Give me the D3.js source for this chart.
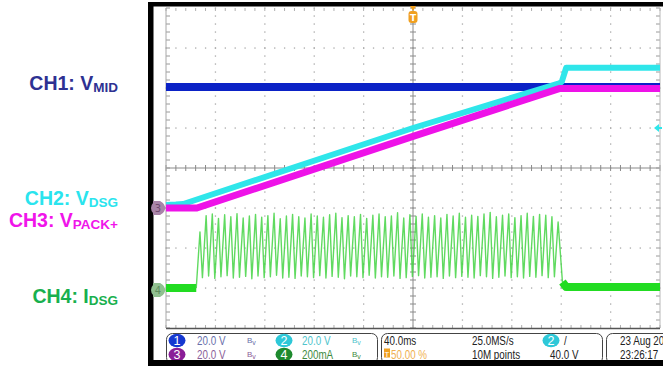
<!DOCTYPE html>
<html><head><meta charset="utf-8">
<script src="https://cdn.jsdelivr.net/npm/d3@7/dist/d3.min.js"></script>
<style>
html,body{margin:0;padding:0;background:#fff;overflow:hidden;}
svg{display:block;}
</style></head><body>
<svg id="c" width="663" height="366"></svg>
<script>
// ---------- DATA ----------
// time in ms (40 ms/div, trigger at centre), volts / mA
const ch1Times = [-200, 200];
const ch1Volts = [60.5, 60.5];

const ch2Times = [-200, -192, -186, 0, 119, 120.5, 124, 200];
const ch2Volts = [1.5, 1.7, 2.0, 40.0, 62.5, 63.2, 70.1, 70.1];

const ch3Times = [-200, -175, 0, 119, 200];
const ch3Volts = [0.0, 0.0, 35.8, 59.8, 59.8];

const ch4PreTimes = [-200, -175.5];
const ch4PreMilliamps = [10, 10];
const toothStartTimes = [
 -175.5,-170.5,-165.5,-160.5,-155.5,-150.5,-145.5,-140.5,-135.5,-130.5,
 -125.5,-120.5,-115.5,-110.5,-105.5,-100.5,-95.5,-90.5,-85.5,-80.5,
 -75.5,-70.5,-65.5,-60.5,-55.5,-50.5,-45.5,-40.5,-35.5,-30.5,
 -25.5,-20.5,-15.5,-10.5,-5.5,-0.5,4.5,9.5,14.5,19.5,
 24.5,29.5,34.5,39.5,44.5,49.5,54.5,59.5,64.5,69.5,
 74.5,79.5,84.5,89.5,94.5,99.5,104.5,109.5,114.5];
const toothTroughs = [
 10,62,70,58,66,72,60,64,68,56,
 70,62,66,74,60,64,58,70,66,62,
 72,60,68,64,56,70,66,62,74,60,
 66,64,70,58,62,68,72,60,64,66,
 58,70,62,68,64,60,72,66,58,64,
 70,62,66,60,68,64,72,62,66];
const toothPeaks = [
 290,372,380,358,376,366,382,360,370,378,
 364,372,384,356,370,378,366,360,380,370,
 364,376,384,362,372,366,378,358,374,380,
 366,370,386,360,376,368,380,364,372,360,
 378,370,384,364,374,368,380,388,366,374,
 380,362,372,384,368,378,374,366,340];
const ch4PostTimes = [121, 124, 200];
const ch4PostMilliamps = [40, 15, 15];

const labelMain = ["CH1: V", "CH2: V", "CH3: V", "CH4: I"];
const labelSub  = ["MID", "DSG", "PACK+", "DSG"];

const statusRow1 = ["20.0 V", "20.0 V"];
const statusRow2 = ["20.0 V", "200mA"];
const timebaseText = ["40.0ms", "50.00 %", "25.0MS/s", "10M points", "40.0 V"];
const triggerLevelVolts = 40;
const dateText = ["23 Aug 2015", "23:26:17"];

// ---------- LAYOUT / STYLE ----------
const P = {l:166, r:660, t:8, b:328};
const cBlue="#0b22c6", cCyan="#2fe6ea", cMag="#ee12e8", cGreen="#22dc22";
const svg = d3.select("#c");

const x = d3.scaleLinear().domain([-200,200]).range([P.l,P.r]);
const yDiv = d3.scaleLinear().domain([-4,4]).range([P.b,P.t]);
function chScale(perDiv, offDiv){
  return d3.scaleLinear().domain([(-4-offDiv)*perDiv,(4-offDiv)*perDiv]).range([P.b,P.t]);
}
const yV = chScale(20, -1);       // CH1..CH3 (20 V/div)
const yI = chScale(200, -3.05);   // CH4 (200 mA/div)

// ---------- frame ----------
svg.append("rect").attr("x",0).attr("y",0).attr("width",663).attr("height",366).attr("fill","#fff");
svg.append("rect").attr("x",148).attr("y",2).attr("width",515).attr("height",4.5).attr("fill","#000");
svg.append("rect").attr("x",148).attr("y",2).attr("width",5.5).attr("height",364).attr("fill","#000");

// ---------- graticule ----------
const g = svg.append("g");
const majorX = d3.range(-200, 201, 40);
const majorY = d3.range(-4, 4.01, 1);
const minorX = d3.range(-200, 200.01, 8);
const minorY = d3.range(-4, 4.001, 0.2);
const dotCol = "#a9a9a9";
majorX.forEach(t=>{
  if (t===-200||t===0||t===200) return;
  minorY.forEach(d=>{
    g.append("rect").attr("x",x(t)-0.6).attr("y",yDiv(d)-0.6).attr("width",1.3).attr("height",1.3).attr("fill",dotCol);
  });
});
majorY.forEach(d=>{
  if (d===-4||d===0||d===4) return;
  minorX.forEach(t=>{
    g.append("rect").attr("x",x(t)-0.6).attr("y",yDiv(d)-0.6).attr("width",1.3).attr("height",1.3).attr("fill",dotCol);
  });
});
g.append("line").attr("x1",P.l).attr("x2",P.r).attr("y1",yDiv(0)).attr("y2",yDiv(0)).attr("stroke","#8a8a8a").attr("stroke-width",1);
g.append("line").attr("x1",x(0)).attr("x2",x(0)).attr("y1",P.t).attr("y2",P.b).attr("stroke","#8a8a8a").attr("stroke-width",1);
minorX.forEach(t=>{
  g.append("line").attr("x1",x(t)).attr("x2",x(t)).attr("y1",yDiv(0)-3).attr("y2",yDiv(0)+3).attr("stroke","#8a8a8a");
  g.append("line").attr("x1",x(t)).attr("x2",x(t)).attr("y1",P.t).attr("y2",P.t+3).attr("stroke","#b0b0b0");
  g.append("line").attr("x1",x(t)).attr("x2",x(t)).attr("y1",P.b-3).attr("y2",P.b).attr("stroke","#b0b0b0");
});
minorY.forEach(d=>{
  g.append("line").attr("x1",x(0)-3).attr("x2",x(0)+3).attr("y1",yDiv(d)).attr("y2",yDiv(d)).attr("stroke","#8a8a8a");
  g.append("line").attr("x1",P.l).attr("x2",P.l+4).attr("y1",yDiv(d)).attr("y2",yDiv(d)).attr("stroke","#9a9a9a");
  g.append("line").attr("x1",P.r-4).attr("x2",P.r).attr("y1",yDiv(d)).attr("y2",yDiv(d)).attr("stroke","#9a9a9a");
});
g.append("line").attr("x1",P.l).attr("x2",P.l).attr("y1",P.t).attr("y2",P.b).attr("stroke","#a8a8a8");
g.append("line").attr("x1",P.r).attr("x2",P.r).attr("y1",P.t).attr("y2",P.b).attr("stroke","#b8b8b8");
g.append("line").attr("x1",P.l).attr("x2",P.r).attr("y1",P.b+0.5).attr("y2",P.b+0.5).attr("stroke","#555").attr("stroke-width",1.6);

// ---------- traces ----------
const lineV = d3.line().x(d=>x(d[0])).y(d=>yV(d[1]));
const lineI = d3.line().x(d=>x(d[0])).y(d=>yI(d[1]));
const tr = svg.append("g").attr("fill","none").attr("stroke-linejoin","round");

tr.append("path").attr("d", lineV(d3.zip(ch1Times, ch1Volts))).attr("stroke",cBlue).attr("stroke-width",8);
tr.append("path").attr("d", lineV(d3.zip(ch2Times, ch2Volts))).attr("stroke",cCyan).attr("stroke-width",6);
tr.append("path").attr("d", lineV(d3.zip(ch3Times, ch3Volts))).attr("stroke",cMag).attr("stroke-width",7);

tr.append("path").attr("d", lineI(d3.zip(ch4PreTimes, ch4PreMilliamps))).attr("stroke",cGreen).attr("stroke-width",8);
const riseMs = 3;
const saw = [];
toothStartTimes.forEach((t,i)=>{
  saw.push([t, toothTroughs[i]]);
  saw.push([t+riseMs, toothPeaks[i]]);
});
saw.push([ch4PostTimes[0], ch4PostMilliamps[0]]);
tr.append("path").attr("d", lineI(saw)).attr("stroke","#44d444").attr("stroke-width",1.4).attr("stroke-opacity",0.85);
tr.append("path").attr("d", lineI(d3.zip(ch4PostTimes, ch4PostMilliamps))).attr("stroke",cGreen).attr("stroke-width",8);

// ---------- markers ----------
const tx = x(0);
svg.append("path").attr("d",`M${tx-3},6 L${tx+3},6 L${tx},11 Z`).attr("fill","#f0a020");
svg.append("rect").attr("x",tx-4.5).attr("y",11).attr("width",9).attr("height",12).attr("rx",3).attr("fill","#f0a020");
svg.append("text").attr("x",tx).attr("y",21).attr("text-anchor","middle").attr("fill","#fff")
  .attr("font-family","DejaVu Sans, sans-serif").attr("font-size",9).attr("font-weight","bold").text("T");
const ty = yV(triggerLevelVolts);
svg.append("path").attr("d",`M${P.r-6},${ty} L${P.r-1},${ty-4} L${P.r-1},${ty+4} Z`).attr("fill",cCyan);
svg.append("line").attr("x1",P.r-3).attr("x2",P.r+2).attr("y1",ty).attr("y2",ty).attr("stroke",cCyan).attr("stroke-width",2);
function chMarker(yc, fill, txt, tcol){
  svg.append("path").attr("d",`M153,${yc-7} L160,${yc-7} L166,${yc} L160,${yc+7} L153,${yc+7} Z`).attr("fill",fill);
  svg.append("circle").attr("cx",158).attr("cy",yc).attr("r",7).attr("fill",fill);
  svg.append("text").attr("x",158).attr("y",yc+4).attr("text-anchor","middle").attr("fill",tcol)
    .attr("font-family","DejaVu Sans, sans-serif").attr("font-size",10).text(txt);
}
chMarker(yV(0), "#a884a8", "3", "#6e4a70");
chMarker(yI(0), "#90c090", "4", "#5e8e5e");

// ---------- left labels ----------
const labCols = ["#2e3192", "#2ae4ee", "#f014ea", "#18b04e"];
const labY = [90, 205, 227, 303];
labelMain.forEach((m,i)=>{
  const t = svg.append("text").attr("x",118).attr("y",labY[i]).attr("text-anchor","end")
    .attr("font-family","Liberation Sans, Arial, sans-serif").attr("font-weight","bold")
    .attr("font-size",19.5).attr("fill",labCols[i]);
  t.append("tspan").text(m);
  t.append("tspan").attr("font-size",13.5).attr("dy",1.5).text(labelSub[i]);
});

// ---------- status panel ----------
const sp = svg.append("g");
[[166,378],[381,603],[606,700]].forEach(b=>{
  sp.append("rect").attr("x",b[0]+0.5).attr("y",333.5).attr("width",b[1]-b[0]-1).attr("height",30).attr("rx",6)
    .attr("fill","#fff").attr("stroke","#444").attr("stroke-width",1);
});
svg.append("rect").attr("x",148).attr("y",360).attr("width",515).attr("height",6).attr("fill","#000");
// narrow text helper (scope font is a narrow sans)
function ntext(xx, yy, str, col, size){
  const gg = sp.append("g").attr("transform",`translate(${xx},${yy}) scale(0.82,1)`);
  gg.append("text").attr("x",0).attr("y",0).attr("fill",col)
    .attr("font-family","Liberation Sans, Arial, sans-serif").attr("font-size",size||12).text(str);
  return gg;
}
function badge(cx, cy, fill, n){
  sp.append("ellipse").attr("cx",cx).attr("cy",cy).attr("rx",8.5).attr("ry",6.8).attr("fill",fill);
  sp.append("text").attr("x",cx).attr("y",cy+4.5).attr("text-anchor","middle").attr("fill","#fff")
    .attr("font-family","Liberation Sans, Arial, sans-serif").attr("font-size",12.5).text(n);
}
function bw(xx, yy, col){
  const t = sp.append("text").attr("x",xx).attr("y",yy).attr("fill",col).attr("font-size",8)
    .attr("font-family","Liberation Sans, Arial, sans-serif");
  t.append("tspan").text("B");
  t.append("tspan").attr("dy",2).attr("font-size",7).text("v");
}
const r1=340.5, r2=354.5, b1=345, b2=358.5;
badge(177, r1, "#1538d0", "1");
ntext(197, b1, statusRow1[0], "#6870aa");
bw(247, b1-2, "#6870aa");
badge(284, r1, "#2ec8d8", "2");
ntext(302, b1, statusRow1[1], "#4ec4cc");
bw(352, b1-2, "#4ec4cc");
badge(177, r2, "#8a1e98", "3");
ntext(197, b2, statusRow2[0], "#8a5e98");
bw(247, b2-2, "#8a5e98");
badge(284, r2, "#1e8a2e", "4");
ntext(302, b2, statusRow2[1], "#3e8a3e");
bw(352, b2-2, "#3e8a3e");

ntext(384, b1, timebaseText[0], "#222");
sp.append("rect").attr("x",384).attr("y",348.5).attr("width",6).attr("height",9).attr("fill","#f0a020");
sp.append("text").attr("x",387).attr("y",356.5).attr("text-anchor","middle").attr("fill","#fff")
  .attr("font-family","Liberation Sans, Arial, sans-serif").attr("font-size",8).text("T");
ntext(391, b2, timebaseText[1], "#f0b050");
ntext(472, b1, timebaseText[2], "#222");
ntext(472, b2, timebaseText[3], "#222");
badge(551, r1, "#2ec8d8", "2");
ntext(564, b1, "/", "#222");
ntext(550, b2, timebaseText[4], "#222");
ntext(620, b1, dateText[0], "#222");
ntext(620, b2, dateText[1], "#222");
</script>
</body></html>
